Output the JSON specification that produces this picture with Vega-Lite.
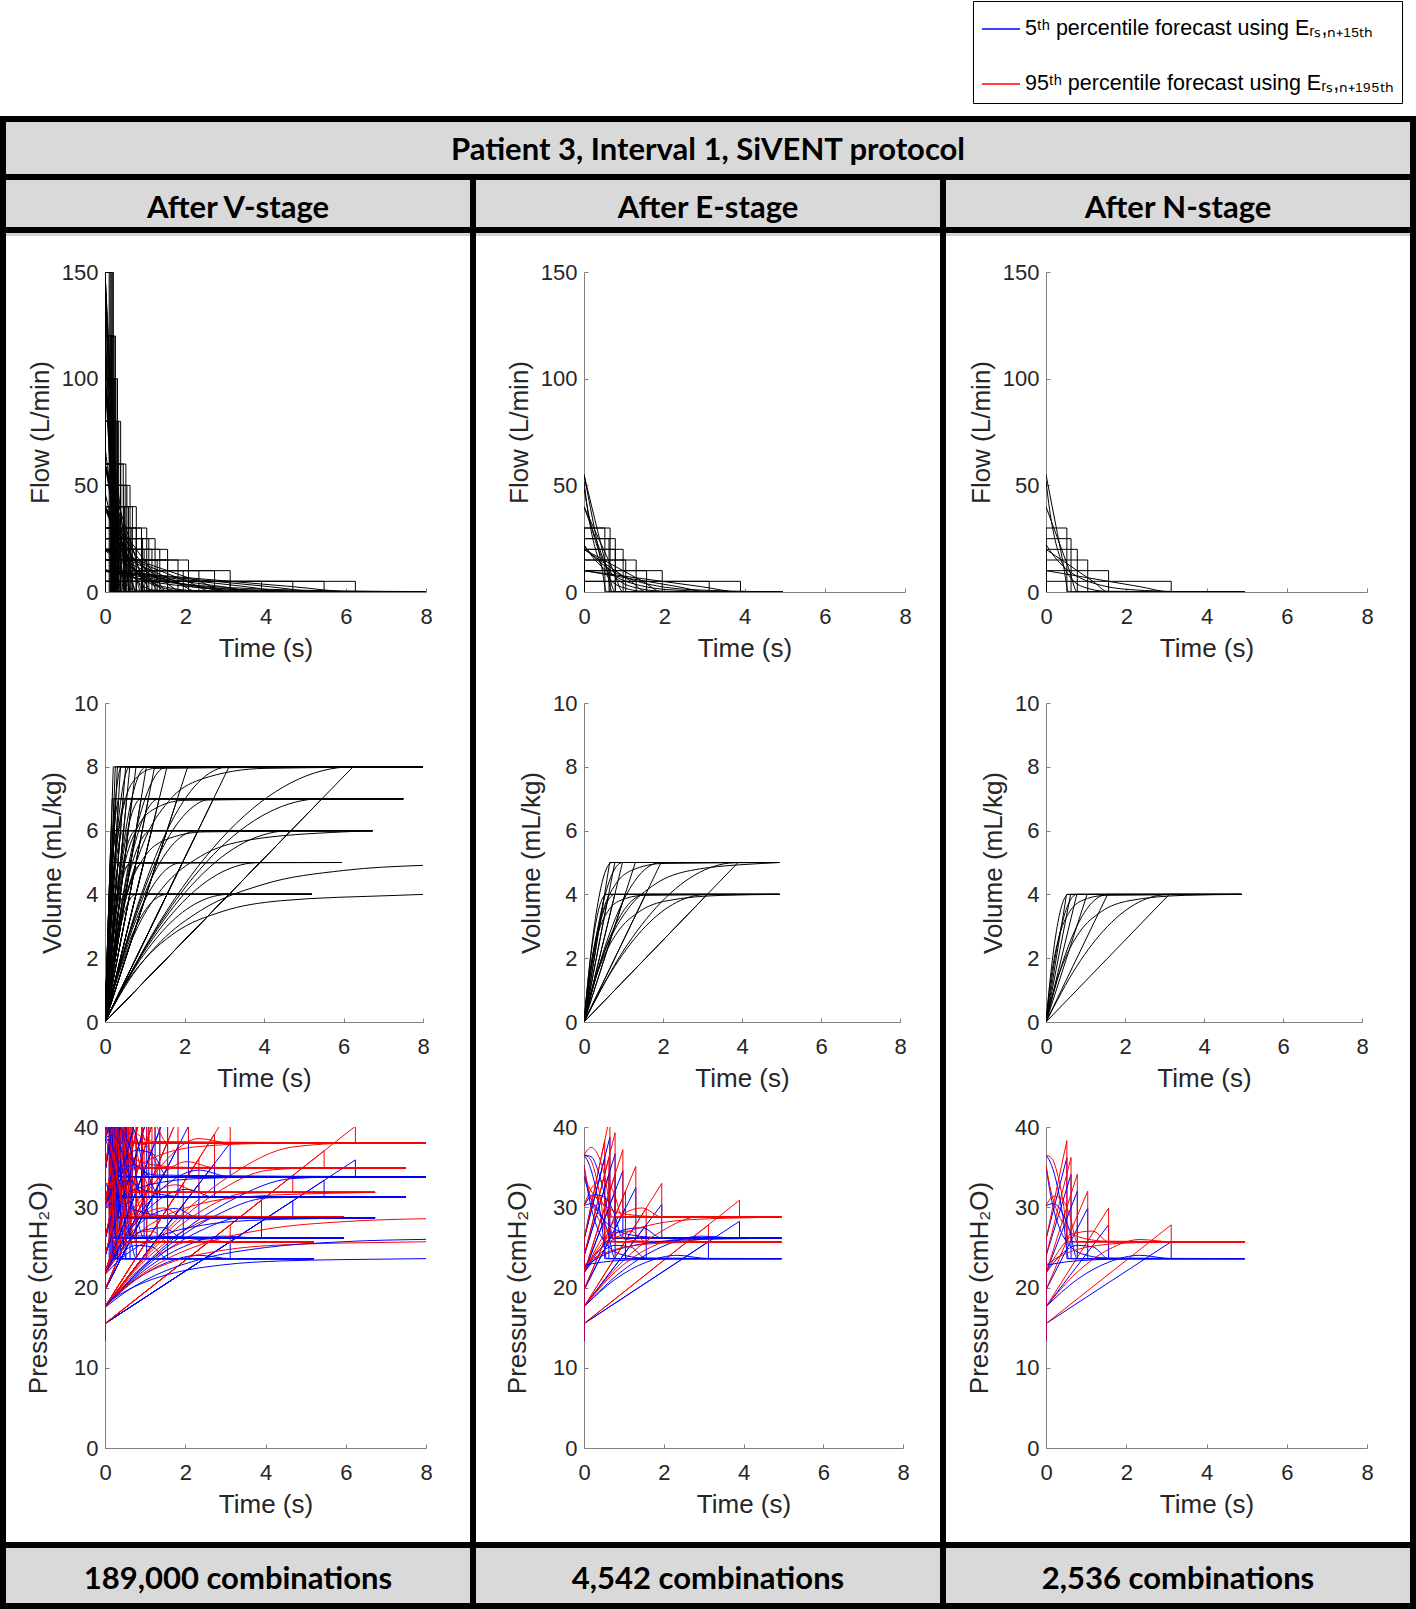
{
"$schema":"https://vega.github.io/schema/vega-lite/v6.json",
"padding":0,"spacing":0,"bounds":"flush","align":"each","columns":13,
"config":{"view":{"stroke":null},
"axis":{"grid":false,"domainColor":"#808080","tickColor":"#808080","tickSize":-4,"labelFont":"Liberation Sans","labelFontSize":22,"labelColor":"#262626","titleFont":"Liberation Sans","titleFontSize":26,"titleFontWeight":"normal","titleColor":"#262626","labelOverlap":false,"labelFlush":false},
"axisX":{"labelPadding":18,"titlePadding":8},
"axisY":{"labelPadding":11,"titlePadding":8}},
"datasets":{
"sq":[
{"c":1,"id":1,"t":[0,0,0.104,0.104,5.2],"f":[0,150,150,0,0],"v":[0,0,4,4,4],"pb":[13.4,76.4,86.6,23.6,23.6],"pr":[13.4,76.4,88.7,25.7,25.7]},
{"c":1,"id":2,"t":[0,0,0.13,0.13,5.95],"f":[0,150,150,0,0],"v":[0,0,5,5,5],"pb":[13.4,76.4,89.15,26.15,26.15],"pr":[13.4,76.4,91.78,28.78,28.78]},
{"c":1,"id":3,"t":[0,0,0.156,0.156,6.73],"f":[0,150,150,0,0],"v":[0,0,6,6,6],"pb":[13.4,76.4,91.7,28.7,28.7],"pr":[13.4,76.4,94.85,31.85,31.85]},
{"c":1,"id":4,"t":[0,0,0.182,0.182,7.5],"f":[0,150,150,0,0],"v":[0,0,7,7,7],"pb":[13.4,76.4,94.25,31.25,31.25],"pr":[13.4,76.4,97.93,34.93,34.93]},
{"c":1,"id":5,"t":[0,0,0.208,0.208,8],"f":[0,150,150,0,0],"v":[0,0,8,8,8],"pb":[13.4,76.4,96.8,33.8,33.8],"pr":[13.4,76.4,101,38,38]},
{"c":1,"id":6,"t":[0,0,0.13,0.13,5.2],"f":[0,120,120,0,0],"v":[0,0,4,4,4],"pb":[13.4,63.8,74,23.6,23.6],"pr":[13.4,63.8,76.1,25.7,25.7]},
{"c":1,"id":7,"t":[0,0,0.163,0.163,5.95],"f":[0,120,120,0,0],"v":[0,0,5,5,5],"pb":[13.4,63.8,76.55,26.15,26.15],"pr":[13.4,63.8,79.18,28.78,28.78]},
{"c":1,"id":8,"t":[0,0,0.195,0.195,6.73],"f":[0,120,120,0,0],"v":[0,0,6,6,6],"pb":[13.4,63.8,79.1,28.7,28.7],"pr":[13.4,63.8,82.25,31.85,31.85]},
{"c":1,"id":9,"t":[0,0,0.228,0.228,7.5],"f":[0,120,120,0,0],"v":[0,0,7,7,7],"pb":[13.4,63.8,81.65,31.25,31.25],"pr":[13.4,63.8,85.33,34.93,34.93]},
{"c":1,"id":10,"t":[0,0,0.26,0.26,8],"f":[0,120,120,0,0],"v":[0,0,8,8,8],"pb":[13.4,63.8,84.2,33.8,33.8],"pr":[13.4,63.8,88.4,38,38]},
{"c":1,"id":11,"t":[0,0,0.156,0.156,5.2],"f":[0,100,100,0,0],"v":[0,0,4,4,4],"pb":[13.4,55.4,65.6,23.6,23.6],"pr":[13.4,55.4,67.7,25.7,25.7]},
{"c":1,"id":12,"t":[0,0,0.195,0.195,5.95],"f":[0,100,100,0,0],"v":[0,0,5,5,5],"pb":[13.4,55.4,68.15,26.15,26.15],"pr":[13.4,55.4,70.78,28.78,28.78]},
{"c":1,"id":13,"t":[0,0,0.234,0.234,6.73],"f":[0,100,100,0,0],"v":[0,0,6,6,6],"pb":[13.4,55.4,70.7,28.7,28.7],"pr":[13.4,55.4,73.85,31.85,31.85]},
{"c":1,"id":14,"t":[0,0,0.273,0.273,7.5],"f":[0,100,100,0,0],"v":[0,0,7,7,7],"pb":[13.4,55.4,73.25,31.25,31.25],"pr":[13.4,55.4,76.93,34.93,34.93]},
{"c":1,"id":15,"t":[0,0,0.312,0.312,8],"f":[0,100,100,0,0],"v":[0,0,8,8,8],"pb":[13.4,55.4,75.8,33.8,33.8],"pr":[13.4,55.4,80,38,38]},
{"c":1,"id":16,"t":[0,0,0.195,0.195,5.2],"f":[0,80,80,0,0],"v":[0,0,4,4,4],"pb":[13.4,47,57.2,23.6,23.6],"pr":[13.4,47,59.3,25.7,25.7]},
{"c":1,"id":17,"t":[0,0,0.244,0.244,5.95],"f":[0,80,80,0,0],"v":[0,0,5,5,5],"pb":[13.4,47,59.75,26.15,26.15],"pr":[13.4,47,62.38,28.78,28.78]},
{"c":1,"id":18,"t":[0,0,0.293,0.293,6.73],"f":[0,80,80,0,0],"v":[0,0,6,6,6],"pb":[13.4,47,62.3,28.7,28.7],"pr":[13.4,47,65.45,31.85,31.85]},
{"c":1,"id":19,"t":[0,0,0.341,0.341,7.5],"f":[0,80,80,0,0],"v":[0,0,7,7,7],"pb":[13.4,47,64.85,31.25,31.25],"pr":[13.4,47,68.53,34.93,34.93]},
{"c":1,"id":20,"t":[0,0,0.39,0.39,8],"f":[0,80,80,0,0],"v":[0,0,8,8,8],"pb":[13.4,47,67.4,33.8,33.8],"pr":[13.4,47,71.6,38,38]},
{"c":1,"id":21,"t":[0,0,0.26,0.26,5.2],"f":[0,60,60,0,0],"v":[0,0,4,4,4],"pb":[13.4,38.6,48.8,23.6,23.6],"pr":[13.4,38.6,50.9,25.7,25.7]},
{"c":1,"id":22,"t":[0,0,0.325,0.325,5.95],"f":[0,60,60,0,0],"v":[0,0,5,5,5],"pb":[13.4,38.6,51.35,26.15,26.15],"pr":[13.4,38.6,53.98,28.78,28.78]},
{"c":1,"id":23,"t":[0,0,0.39,0.39,6.73],"f":[0,60,60,0,0],"v":[0,0,6,6,6],"pb":[13.4,38.6,53.9,28.7,28.7],"pr":[13.4,38.6,57.05,31.85,31.85]},
{"c":1,"id":24,"t":[0,0,0.455,0.455,7.5],"f":[0,60,60,0,0],"v":[0,0,7,7,7],"pb":[13.4,38.6,56.45,31.25,31.25],"pr":[13.4,38.6,60.13,34.93,34.93]},
{"c":1,"id":25,"t":[0,0,0.52,0.52,8],"f":[0,60,60,0,0],"v":[0,0,8,8,8],"pb":[13.4,38.6,59,33.8,33.8],"pr":[13.4,38.6,63.2,38,38]},
{"c":1,"id":26,"t":[0,0,0.312,0.312,5.2],"f":[0,50,50,0,0],"v":[0,0,4,4,4],"pb":[13.4,34.4,44.6,23.6,23.6],"pr":[13.4,34.4,46.7,25.7,25.7]},
{"c":1,"id":27,"t":[0,0,0.39,0.39,5.95],"f":[0,50,50,0,0],"v":[0,0,5,5,5],"pb":[13.4,34.4,47.15,26.15,26.15],"pr":[13.4,34.4,49.78,28.78,28.78]},
{"c":1,"id":28,"t":[0,0,0.468,0.468,6.73],"f":[0,50,50,0,0],"v":[0,0,6,6,6],"pb":[13.4,34.4,49.7,28.7,28.7],"pr":[13.4,34.4,52.85,31.85,31.85]},
{"c":1,"id":29,"t":[0,0,0.546,0.546,7.5],"f":[0,50,50,0,0],"v":[0,0,7,7,7],"pb":[13.4,34.4,52.25,31.25,31.25],"pr":[13.4,34.4,55.93,34.93,34.93]},
{"c":1,"id":30,"t":[0,0,0.624,0.624,8],"f":[0,50,50,0,0],"v":[0,0,8,8,8],"pb":[13.4,34.4,54.8,33.8,33.8],"pr":[13.4,34.4,59,38,38]},
{"c":1,"id":31,"t":[0,0,0.39,0.39,5.2],"f":[0,40,40,0,0],"v":[0,0,4,4,4],"pb":[13.4,30.2,40.4,23.6,23.6],"pr":[13.4,30.2,42.5,25.7,25.7]},
{"c":1,"id":32,"t":[0,0,0.488,0.488,5.95],"f":[0,40,40,0,0],"v":[0,0,5,5,5],"pb":[13.4,30.2,42.95,26.15,26.15],"pr":[13.4,30.2,45.58,28.78,28.78]},
{"c":1,"id":33,"t":[0,0,0.585,0.585,6.73],"f":[0,40,40,0,0],"v":[0,0,6,6,6],"pb":[13.4,30.2,45.5,28.7,28.7],"pr":[13.4,30.2,48.65,31.85,31.85]},
{"c":1,"id":34,"t":[0,0,0.683,0.683,7.5],"f":[0,40,40,0,0],"v":[0,0,7,7,7],"pb":[13.4,30.2,48.05,31.25,31.25],"pr":[13.4,30.2,51.73,34.93,34.93]},
{"c":1,"id":35,"t":[0,0,0.78,0.78,8],"f":[0,40,40,0,0],"v":[0,0,8,8,8],"pb":[13.4,30.2,50.6,33.8,33.8],"pr":[13.4,30.2,54.8,38,38]},
{"c":1,"id":36,"t":[0,0,0.52,0.52,5.2],"f":[0,30,30,0,0],"v":[0,0,4,4,4],"pb":[13.4,26,36.2,23.6,23.6],"pr":[13.4,26,38.3,25.7,25.7]},
{"c":1,"id":37,"t":[0,0,0.65,0.65,5.95],"f":[0,30,30,0,0],"v":[0,0,5,5,5],"pb":[13.4,26,38.75,26.15,26.15],"pr":[13.4,26,41.38,28.78,28.78]},
{"c":1,"id":38,"t":[0,0,0.78,0.78,6.73],"f":[0,30,30,0,0],"v":[0,0,6,6,6],"pb":[13.4,26,41.3,28.7,28.7],"pr":[13.4,26,44.45,31.85,31.85]},
{"c":1,"id":39,"t":[0,0,0.91,0.91,7.5],"f":[0,30,30,0,0],"v":[0,0,7,7,7],"pb":[13.4,26,43.85,31.25,31.25],"pr":[13.4,26,47.53,34.93,34.93]},
{"c":1,"id":40,"t":[0,0,1.04,1.04,8],"f":[0,30,30,0,0],"v":[0,0,8,8,8],"pb":[13.4,26,46.4,33.8,33.8],"pr":[13.4,26,50.6,38,38]},
{"c":1,"id":41,"t":[0,0,0.624,0.624,5.2],"f":[0,25,25,0,0],"v":[0,0,4,4,4],"pb":[13.4,23.9,34.1,23.6,23.6],"pr":[13.4,23.9,36.2,25.7,25.7]},
{"c":1,"id":42,"t":[0,0,0.78,0.78,5.95],"f":[0,25,25,0,0],"v":[0,0,5,5,5],"pb":[13.4,23.9,36.65,26.15,26.15],"pr":[13.4,23.9,39.28,28.78,28.78]},
{"c":1,"id":43,"t":[0,0,0.936,0.936,6.73],"f":[0,25,25,0,0],"v":[0,0,6,6,6],"pb":[13.4,23.9,39.2,28.7,28.7],"pr":[13.4,23.9,42.35,31.85,31.85]},
{"c":1,"id":44,"t":[0,0,1.092,1.092,7.5],"f":[0,25,25,0,0],"v":[0,0,7,7,7],"pb":[13.4,23.9,41.75,31.25,31.25],"pr":[13.4,23.9,45.43,34.93,34.93]},
{"c":1,"id":45,"t":[0,0,1.248,1.248,8],"f":[0,25,25,0,0],"v":[0,0,8,8,8],"pb":[13.4,23.9,44.3,33.8,33.8],"pr":[13.4,23.9,48.5,38,38]},
{"c":1,"id":46,"t":[0,0,0.78,0.78,5.2],"f":[0,20,20,0,0],"v":[0,0,4,4,4],"pb":[13.4,21.8,32,23.6,23.6],"pr":[13.4,21.8,34.1,25.7,25.7]},
{"c":1,"id":47,"t":[0,0,0.975,0.975,5.95],"f":[0,20,20,0,0],"v":[0,0,5,5,5],"pb":[13.4,21.8,34.55,26.15,26.15],"pr":[13.4,21.8,37.18,28.78,28.78]},
{"c":1,"id":48,"t":[0,0,1.17,1.17,6.73],"f":[0,20,20,0,0],"v":[0,0,6,6,6],"pb":[13.4,21.8,37.1,28.7,28.7],"pr":[13.4,21.8,40.25,31.85,31.85]},
{"c":1,"id":49,"t":[0,0,1.365,1.365,7.5],"f":[0,20,20,0,0],"v":[0,0,7,7,7],"pb":[13.4,21.8,39.65,31.25,31.25],"pr":[13.4,21.8,43.33,34.93,34.93]},
{"c":1,"id":50,"t":[0,0,1.56,1.56,8],"f":[0,20,20,0,0],"v":[0,0,8,8,8],"pb":[13.4,21.8,42.2,33.8,33.8],"pr":[13.4,21.8,46.4,38,38]},
{"c":1,"id":51,"t":[0,0,1.04,1.04,5.2],"f":[0,15,15,0,0],"v":[0,0,4,4,4],"pb":[13.4,19.7,29.9,23.6,23.6],"pr":[13.4,19.7,32,25.7,25.7]},
{"c":1,"id":52,"t":[0,0,1.3,1.3,5.95],"f":[0,15,15,0,0],"v":[0,0,5,5,5],"pb":[13.4,19.7,32.45,26.15,26.15],"pr":[13.4,19.7,35.08,28.78,28.78]},
{"c":1,"id":53,"t":[0,0,1.56,1.56,6.73],"f":[0,15,15,0,0],"v":[0,0,6,6,6],"pb":[13.4,19.7,35,28.7,28.7],"pr":[13.4,19.7,38.15,31.85,31.85]},
{"c":1,"id":54,"t":[0,0,1.82,1.82,7.5],"f":[0,15,15,0,0],"v":[0,0,7,7,7],"pb":[13.4,19.7,37.55,31.25,31.25],"pr":[13.4,19.7,41.23,34.93,34.93]},
{"c":1,"id":55,"t":[0,0,2.08,2.08,8],"f":[0,15,15,0,0],"v":[0,0,8,8,8],"pb":[13.4,19.7,40.1,33.8,33.8],"pr":[13.4,19.7,44.3,38,38]},
{"c":1,"id":56,"t":[0,0,1.56,1.56,5.2],"f":[0,10,10,0,0],"v":[0,0,4,4,4],"pb":[13.4,17.6,27.8,23.6,23.6],"pr":[13.4,17.6,29.9,25.7,25.7]},
{"c":1,"id":57,"t":[0,0,1.95,1.95,5.95],"f":[0,10,10,0,0],"v":[0,0,5,5,5],"pb":[13.4,17.6,30.35,26.15,26.15],"pr":[13.4,17.6,32.98,28.78,28.78]},
{"c":1,"id":58,"t":[0,0,2.34,2.34,6.73],"f":[0,10,10,0,0],"v":[0,0,6,6,6],"pb":[13.4,17.6,32.9,28.7,28.7],"pr":[13.4,17.6,36.05,31.85,31.85]},
{"c":1,"id":59,"t":[0,0,2.73,2.73,7.5],"f":[0,10,10,0,0],"v":[0,0,7,7,7],"pb":[13.4,17.6,35.45,31.25,31.25],"pr":[13.4,17.6,39.13,34.93,34.93]},
{"c":1,"id":60,"t":[0,0,3.12,3.12,8],"f":[0,10,10,0,0],"v":[0,0,8,8,8],"pb":[13.4,17.6,38,33.8,33.8],"pr":[13.4,17.6,42.2,38,38]},
{"c":1,"id":61,"t":[0,0,3.12,3.12,5.2],"f":[0,5,5,0,0],"v":[0,0,4,4,4],"pb":[13.4,15.5,25.7,23.6,23.6],"pr":[13.4,15.5,27.8,25.7,25.7]},
{"c":1,"id":62,"t":[0,0,3.9,3.9,5.95],"f":[0,5,5,0,0],"v":[0,0,5,5,5],"pb":[13.4,15.5,28.25,26.15,26.15],"pr":[13.4,15.5,30.88,28.78,28.78]},
{"c":1,"id":63,"t":[0,0,4.68,4.68,6.73],"f":[0,5,5,0,0],"v":[0,0,6,6,6],"pb":[13.4,15.5,30.8,28.7,28.7],"pr":[13.4,15.5,33.95,31.85,31.85]},
{"c":1,"id":64,"t":[0,0,5.46,5.46,7.5],"f":[0,5,5,0,0],"v":[0,0,7,7,7],"pb":[13.4,15.5,33.35,31.25,31.25],"pr":[13.4,15.5,37.03,34.93,34.93]},
{"c":1,"id":65,"t":[0,0,6.24,6.24,8],"f":[0,5,5,0,0],"v":[0,0,8,8,8],"pb":[13.4,15.5,35.9,33.8,33.8],"pr":[13.4,15.5,40.1,38,38]},
{"c":2,"id":66,"t":[0,0,0.52,0.52,4.95],"f":[0,30,30,0,0],"v":[0,0,4,4,4],"pb":[13.4,26,36.2,23.6,23.6],"pr":[13.4,26,38.3,25.7,25.7]},
{"c":2,"id":67,"t":[0,0,0.624,0.624,4.95],"f":[0,25,25,0,0],"v":[0,0,4,4,4],"pb":[13.4,23.9,34.1,23.6,23.6],"pr":[13.4,23.9,36.2,25.7,25.7]},
{"c":2,"id":68,"t":[0,0,0.78,0.78,4.95],"f":[0,20,20,0,0],"v":[0,0,4,4,4],"pb":[13.4,21.8,32,23.6,23.6],"pr":[13.4,21.8,34.1,25.7,25.7]},
{"c":2,"id":69,"t":[0,0,1.04,1.04,4.95],"f":[0,15,15,0,0],"v":[0,0,4,4,4],"pb":[13.4,19.7,29.9,23.6,23.6],"pr":[13.4,19.7,32,25.7,25.7]},
{"c":2,"id":70,"t":[0,0,1.56,1.56,4.95],"f":[0,10,10,0,0],"v":[0,0,4,4,4],"pb":[13.4,17.6,27.8,23.6,23.6],"pr":[13.4,17.6,29.9,25.7,25.7]},
{"c":2,"id":71,"t":[0,0,3.12,3.12,4.95],"f":[0,5,5,0,0],"v":[0,0,4,4,4],"pb":[13.4,15.5,25.7,23.6,23.6],"pr":[13.4,15.5,27.8,25.7,25.7]},
{"c":2,"id":72,"t":[0,0,0.65,0.65,4.95],"f":[0,30,30,0,0],"v":[0,0,5,5,5],"pb":[13.4,26,38.75,26.15,26.15],"pr":[13.4,26,41.38,28.78,28.78]},
{"c":2,"id":73,"t":[0,0,0.78,0.78,4.95],"f":[0,25,25,0,0],"v":[0,0,5,5,5],"pb":[13.4,23.9,36.65,26.15,26.15],"pr":[13.4,23.9,39.28,28.78,28.78]},
{"c":2,"id":74,"t":[0,0,0.975,0.975,4.95],"f":[0,20,20,0,0],"v":[0,0,5,5,5],"pb":[13.4,21.8,34.55,26.15,26.15],"pr":[13.4,21.8,37.18,28.78,28.78]},
{"c":2,"id":75,"t":[0,0,1.3,1.3,4.95],"f":[0,15,15,0,0],"v":[0,0,5,5,5],"pb":[13.4,19.7,32.45,26.15,26.15],"pr":[13.4,19.7,35.08,28.78,28.78]},
{"c":2,"id":76,"t":[0,0,1.95,1.95,4.95],"f":[0,10,10,0,0],"v":[0,0,5,5,5],"pb":[13.4,17.6,30.35,26.15,26.15],"pr":[13.4,17.6,32.98,28.78,28.78]},
{"c":2,"id":77,"t":[0,0,3.9,3.9,4.95],"f":[0,5,5,0,0],"v":[0,0,5,5,5],"pb":[13.4,15.5,28.25,26.15,26.15],"pr":[13.4,15.5,30.88,28.78,28.78]},
{"c":3,"id":78,"t":[0,0,0.52,0.52,4.95],"f":[0,30,30,0,0],"v":[0,0,4,4,4],"pb":[13.4,26,36.2,23.6,23.6],"pr":[13.4,26,38.3,25.7,25.7]},
{"c":3,"id":79,"t":[0,0,0.624,0.624,4.95],"f":[0,25,25,0,0],"v":[0,0,4,4,4],"pb":[13.4,23.9,34.1,23.6,23.6],"pr":[13.4,23.9,36.2,25.7,25.7]},
{"c":3,"id":80,"t":[0,0,0.78,0.78,4.95],"f":[0,20,20,0,0],"v":[0,0,4,4,4],"pb":[13.4,21.8,32,23.6,23.6],"pr":[13.4,21.8,34.1,25.7,25.7]},
{"c":3,"id":81,"t":[0,0,1.04,1.04,4.95],"f":[0,15,15,0,0],"v":[0,0,4,4,4],"pb":[13.4,19.7,29.9,23.6,23.6],"pr":[13.4,19.7,32,25.7,25.7]},
{"c":3,"id":82,"t":[0,0,1.56,1.56,4.95],"f":[0,10,10,0,0],"v":[0,0,4,4,4],"pb":[13.4,17.6,27.8,23.6,23.6],"pr":[13.4,17.6,29.9,25.7,25.7]},
{"c":3,"id":83,"t":[0,0,3.12,3.12,4.95],"f":[0,5,5,0,0],"v":[0,0,4,4,4],"pb":[13.4,15.5,25.7,23.6,23.6],"pr":[13.4,15.5,27.8,25.7,25.7]}
],
"cu":[
{"c":1,"id":101,"t":[0,0.078,0.156,0.234,0.312,5.2],"f":[100,75,50,25,0,0],"v":[0,1.75,3,3.75,4,4],"pb":[55.4,49.36,42.05,33.46,23.6,23.6],"pr":[55.4,50.28,43.63,35.43,25.7,25.7]},
{"c":1,"id":102,"t":[0,0.0975,0.195,0.2925,0.39,5.95],"f":[100,75,50,25,0,0],"v":[0,2.19,3.75,4.69,5,5],"pb":[55.4,50.48,43.96,35.85,26.15,26.15],"pr":[55.4,51.63,45.93,38.31,28.78,28.78]},
{"c":1,"id":103,"t":[0,0.117,0.234,0.351,0.468,6.73],"f":[100,75,50,25,0,0],"v":[0,2.63,4.5,5.63,6,6],"pb":[55.4,51.59,45.88,38.24,28.7,28.7],"pr":[55.4,52.97,48.24,41.2,31.85,31.85]},
{"c":1,"id":104,"t":[0,0.1365,0.273,0.4095,0.546,7.5],"f":[100,75,50,25,0,0],"v":[0,3.06,5.25,6.56,7,7],"pb":[55.4,52.71,47.79,40.63,31.25,31.25],"pr":[55.4,54.32,50.54,44.08,34.93,34.93]},
{"c":1,"id":105,"t":[0,0.156,0.312,0.468,0.624,8],"f":[100,75,50,25,0,0],"v":[0,3.5,6,7.5,8,8],"pb":[55.4,53.83,49.7,43.03,33.8,33.8],"pr":[55.4,55.66,52.85,46.96,38,38]},
{"c":1,"id":106,"t":[0,0.195,0.39,0.585,0.78,5.2],"f":[40,30,20,10,0,0],"v":[0,1.75,3,3.75,4,4],"pb":[30.2,30.46,29.45,27.16,23.6,23.6],"pr":[30.2,31.38,31.03,29.13,25.7,25.7]},
{"c":1,"id":107,"t":[0,0.244,0.4875,0.731,0.975,5.95],"f":[40,30,20,10,0,0],"v":[0,2.19,3.75,4.69,5,5],"pb":[30.2,31.58,31.36,29.55,26.15,26.15],"pr":[30.2,32.73,33.33,32.01,28.78,28.78]},
{"c":1,"id":108,"t":[0,0.2925,0.585,0.8775,1.17,6.73],"f":[40,30,20,10,0,0],"v":[0,2.63,4.5,5.63,6,6],"pb":[30.2,32.69,33.28,31.94,28.7,28.7],"pr":[30.2,34.07,35.64,34.9,31.85,31.85]},
{"c":1,"id":109,"t":[0,0.341,0.6825,1.024,1.365,7.5],"f":[40,30,20,10,0,0],"v":[0,3.06,5.25,6.56,7,7],"pb":[30.2,33.81,35.19,34.33,31.25,31.25],"pr":[30.2,35.42,37.94,37.78,34.93,34.93]},
{"c":1,"id":110,"t":[0,0.39,0.78,1.17,1.56,8],"f":[40,30,20,10,0,0],"v":[0,3.5,6,7.5,8,8],"pb":[30.2,34.93,37.1,36.73,33.8,33.8],"pr":[30.2,36.76,40.25,40.66,38,38]},
{"c":1,"id":111,"t":[0,0.39,0.78,1.17,1.56,5.2],"f":[20,15,10,5,0,0],"v":[0,1.75,3,3.75,4,4],"pb":[21.8,24.16,25.25,25.06,23.6,23.6],"pr":[21.8,25.08,26.83,27.03,25.7,25.7]},
{"c":1,"id":112,"t":[0,0.4875,0.975,1.4625,1.95,5.95],"f":[20,15,10,5,0,0],"v":[0,2.19,3.75,4.69,5,5],"pb":[21.8,25.28,27.16,27.45,26.15,26.15],"pr":[21.8,26.43,29.13,29.91,28.78,28.78]},
{"c":1,"id":113,"t":[0,0.585,1.17,1.755,2.34,6.73],"f":[20,15,10,5,0,0],"v":[0,2.63,4.5,5.63,6,6],"pb":[21.8,26.39,29.08,29.84,28.7,28.7],"pr":[21.8,27.77,31.44,32.8,31.85,31.85]},
{"c":1,"id":114,"t":[0,0.6825,1.365,2.0475,2.73,7.5],"f":[20,15,10,5,0,0],"v":[0,3.06,5.25,6.56,7,7],"pb":[21.8,27.51,30.99,32.23,31.25,31.25],"pr":[21.8,29.12,33.74,35.68,34.93,34.93]},
{"c":1,"id":115,"t":[0,0.78,1.56,2.34,3.12,8],"f":[20,15,10,5,0,0],"v":[0,3.5,6,7.5,8,8],"pb":[21.8,28.63,32.9,34.63,33.8,33.8],"pr":[21.8,30.46,36.05,38.56,38,38]},
{"c":1,"id":116,"t":[0,0.78,1.56,2.34,3.12,5.2],"f":[10,7.5,5,2.5,0,0],"v":[0,1.75,3,3.75,4,4],"pb":[17.6,21.01,23.15,24.01,23.6,23.6],"pr":[17.6,21.93,24.73,25.98,25.7,25.7]},
{"c":1,"id":117,"t":[0,0.975,1.95,2.925,3.9,5.95],"f":[10,7.5,5,2.5,0,0],"v":[0,2.19,3.75,4.69,5,5],"pb":[17.6,22.13,25.06,26.4,26.15,26.15],"pr":[17.6,23.28,27.03,28.86,28.78,28.78]},
{"c":1,"id":118,"t":[0,1.17,2.34,3.51,4.68,6.73],"f":[10,7.5,5,2.5,0,0],"v":[0,2.63,4.5,5.63,6,6],"pb":[17.6,23.24,26.98,28.79,28.7,28.7],"pr":[17.6,24.62,29.34,31.75,31.85,31.85]},
{"c":1,"id":119,"t":[0,1.365,2.73,4.095,5.46,7.5],"f":[10,7.5,5,2.5,0,0],"v":[0,3.06,5.25,6.56,7,7],"pb":[17.6,24.36,28.89,31.18,31.25,31.25],"pr":[17.6,25.97,31.64,34.63,34.93,34.93]},
{"c":1,"id":120,"t":[0,1.56,3.12,4.68,6.24,8],"f":[10,7.5,5,2.5,0,0],"v":[0,3.5,6,7.5,8,8],"pb":[17.6,25.48,30.8,33.58,33.8,33.8],"pr":[17.6,27.31,33.95,37.51,38,38]},
{"c":1,"id":121,"t":[0,0.075,0.175,0.3,0.5,0.75,1.25,8],"f":[124.8,92.45,61.98,37.59,16.89,6.22,0.84,0],"v":[0,2.07,4.03,5.59,6.92,7.6,7.95,8],"pb":[65.82,57.52,49.7,43.45,38.13,35.39,34.01,33.8],"pr":[65.82,58.61,51.81,46.38,41.76,39.39,38.19,38]},
{"c":1,"id":122,"t":[0,0.24,0.56,0.96,1.6,2.4,4,8],"f":[39,28.89,19.37,11.75,5.28,1.94,0.26,0],"v":[0,2.07,4.03,5.59,6.92,7.6,7.95,8],"pb":[29.78,30.82,31.8,32.59,33.26,33.59,33.77,33.8],"pr":[29.78,31.91,33.91,35.52,36.89,37.59,37.95,38]},
{"c":1,"id":123,"t":[0,0.15,0.35,0.6,1,1.5,2.5,6.73],"f":[46.8,34.67,23.24,14.1,6.33,2.33,0.31,0],"v":[0,1.56,3.02,4.19,5.19,5.7,5.96,6],"pb":[33.06,31.93,30.86,30.01,29.29,28.92,28.73,28.7],"pr":[33.06,32.74,32.45,32.21,32.01,31.91,31.86,31.85]},
{"c":1,"id":124,"t":[0,0.36,0.84,1.44,2.4,3.6,6,6.73],"f":[19.5,14.45,9.68,5.87,2.64,0.97,0.13,0],"v":[0,1.56,3.02,4.19,5.19,5.7,5.96,6],"pb":[21.59,23.44,25.17,26.56,27.74,28.35,28.65,28.7],"pr":[21.59,24.25,26.76,28.76,30.46,31.34,31.78,31.85]},
{"c":1,"id":125,"t":[0,0.44,1.03,1.76,2.94,4.41,7.35,8],"f":[10.6,7.85,5.26,3.19,1.43,0.53,0.07,0],"v":[0,1.04,2.01,2.8,3.46,3.8,3.97,4],"pb":[17.85,19.34,20.74,21.87,22.82,23.31,23.56,23.6],"pr":[17.85,19.89,21.8,23.34,24.64,25.31,25.65,25.7]},
{"c":1,"id":126,"t":[0,0.6,1.4,2.4,4,6,8],"f":[9.75,7.22,4.84,2.94,1.32,0.49,0.18],"v":[0,1.3,2.52,3.49,4.32,4.75,4.91],"pb":[17.5,19.73,21.85,23.54,24.98,25.72,26],"pr":[17.5,20.42,23.17,25.37,27.25,28.22,28.57]},
{"c":1,"id":127,"t":[0,0.12,0.28,0.48,0.8,1.2,2,7.5],"f":[68.25,50.56,33.89,20.56,9.23,3.4,0.46,0],"v":[0,1.81,3.52,4.89,6.05,6.65,6.95,7],"pb":[42.07,39.27,36.62,34.51,32.71,31.79,31.32,31.25],"pr":[42.07,40.22,38.47,37.08,35.89,35.28,34.97,34.93]},
{"c":1,"id":128,"t":[0,0.045,0.105,0.18,0.3,0.45,0.75,5.95],"f":[130,96.3,64.56,39.16,17.59,6.47,0.87,0],"v":[0,1.3,2.52,3.49,4.32,4.75,4.97,5],"pb":[68,57.15,46.94,38.76,31.82,28.23,26.43,26.15],"pr":[68,57.84,48.26,40.59,34.09,30.73,29.04,28.78]},
{"c":1,"id":161,"t":[0,0.052,0.104,0.156,0.208,5.2],"f":[150,112.5,75,37.5,0,0],"v":[0,1.75,3,3.75,4,4],"pb":[76.4,65.11,52.55,38.71,23.6,23.6],"pr":[76.4,66.03,54.13,40.68,25.7,25.7]},
{"c":1,"id":162,"t":[0,0.065,0.13,0.195,0.26,5.95],"f":[150,112.5,75,37.5,0,0],"v":[0,2.19,3.75,4.69,5,5],"pb":[76.4,66.23,54.46,41.1,26.15,26.15],"pr":[76.4,67.38,56.43,43.56,28.78,28.78]},
{"c":1,"id":163,"t":[0,0.078,0.156,0.234,0.312,6.73],"f":[150,112.5,75,37.5,0,0],"v":[0,2.63,4.5,5.63,6,6],"pb":[76.4,67.34,56.38,43.49,28.7,28.7],"pr":[76.4,68.72,58.74,46.45,31.85,31.85]},
{"c":1,"id":164,"t":[0,0.091,0.182,0.273,0.364,7.5],"f":[150,112.5,75,37.5,0,0],"v":[0,3.06,5.25,6.56,7,7],"pb":[76.4,68.46,58.29,45.88,31.25,31.25],"pr":[76.4,70.07,61.04,49.33,34.93,34.93]},
{"c":1,"id":165,"t":[0,0.104,0.208,0.312,0.416,8],"f":[150,112.5,75,37.5,0,0],"v":[0,3.5,6,7.5,8,8],"pb":[76.4,69.58,60.2,48.28,33.8,33.8],"pr":[76.4,71.41,63.35,52.21,38,38]},
{"c":1,"id":166,"t":[0,0.13,0.26,0.39,0.52,5.2],"f":[60,45,30,15,0,0],"v":[0,1.75,3,3.75,4,4],"pb":[38.6,36.76,33.65,29.26,23.6,23.6],"pr":[38.6,37.68,35.23,31.23,25.7,25.7]},
{"c":1,"id":167,"t":[0,0.1625,0.325,0.4875,0.65,5.95],"f":[60,45,30,15,0,0],"v":[0,2.19,3.75,4.69,5,5],"pb":[38.6,37.88,35.56,31.65,26.15,26.15],"pr":[38.6,39.03,37.53,34.11,28.78,28.78]},
{"c":1,"id":168,"t":[0,0.195,0.39,0.585,0.78,6.73],"f":[60,45,30,15,0,0],"v":[0,2.63,4.5,5.63,6,6],"pb":[38.6,38.99,37.48,34.04,28.7,28.7],"pr":[38.6,40.37,39.84,37,31.85,31.85]},
{"c":1,"id":169,"t":[0,0.2275,0.455,0.6825,0.91,7.5],"f":[60,45,30,15,0,0],"v":[0,3.06,5.25,6.56,7,7],"pb":[38.6,40.11,39.39,36.43,31.25,31.25],"pr":[38.6,41.72,42.14,39.88,34.93,34.93]},
{"c":1,"id":170,"t":[0,0.26,0.52,0.78,1.04,8],"f":[60,45,30,15,0,0],"v":[0,3.5,6,7.5,8,8],"pb":[38.6,41.23,41.3,38.83,33.8,33.8],"pr":[38.6,43.06,44.45,42.76,38,38]},
{"c":2,"id":131,"t":[0,0.142,0.284,0.425,0.567,4.95],"f":[55,41.25,27.5,13.75,0,0],"v":[0,1.75,3,3.75,4,4],"pb":[36.5,35.19,32.6,28.74,23.6,23.6],"pr":[36.5,36.11,34.18,30.71,25.7,25.7]},
{"c":2,"id":132,"t":[0,0.177,0.355,0.532,0.709,4.95],"f":[55,41.25,27.5,13.75,0,0],"v":[0,2.19,3.75,4.69,5,5],"pb":[36.5,36.31,34.51,31.13,26.15,26.15],"pr":[36.5,37.46,36.48,33.59,28.78,28.78]},
{"c":2,"id":133,"t":[0,0.195,0.39,0.585,0.78,4.95],"f":[40,30,20,10,0,0],"v":[0,1.75,3,3.75,4,4],"pb":[30.2,30.46,29.45,27.16,23.6,23.6],"pr":[30.2,31.38,31.03,29.13,25.7,25.7]},
{"c":2,"id":134,"t":[0,0.244,0.4875,0.731,0.975,4.95],"f":[40,30,20,10,0,0],"v":[0,2.19,3.75,4.69,5,5],"pb":[30.2,31.58,31.36,29.55,26.15,26.15],"pr":[30.2,32.73,33.33,32.01,28.78,28.78]},
{"c":2,"id":135,"t":[0,0.39,0.78,1.17,1.56,4.95],"f":[20,15,10,5,0,0],"v":[0,1.75,3,3.75,4,4],"pb":[21.8,24.16,25.25,25.06,23.6,23.6],"pr":[21.8,25.08,26.83,27.03,25.7,25.7]},
{"c":2,"id":136,"t":[0,0.4875,0.975,1.4625,1.95,4.95],"f":[20,15,10,5,0,0],"v":[0,2.19,3.75,4.69,5,5],"pb":[21.8,25.28,27.16,27.45,26.15,26.15],"pr":[21.8,26.43,29.13,29.91,28.78,28.78]},
{"c":2,"id":137,"t":[0,0.78,1.56,2.34,3.12,4.95],"f":[10,7.5,5,2.5,0,0],"v":[0,1.75,3,3.75,4,4],"pb":[17.6,21.01,23.15,24.01,23.6,23.6],"pr":[17.6,21.93,24.73,25.98,25.7,25.7]},
{"c":2,"id":138,"t":[0,0.975,1.95,2.925,3.9,4.95],"f":[10,7.5,5,2.5,0,0],"v":[0,2.19,3.75,4.69,5,5],"pb":[17.6,22.13,25.06,26.4,26.15,26.15],"pr":[17.6,23.28,27.03,28.86,28.78,28.78]},
{"c":2,"id":139,"t":[0,0.12,0.28,0.48,0.8,1.2,2,4.95],"f":[48.75,36.11,24.21,14.68,6.6,2.43,0.33,0],"v":[0,1.3,2.52,3.49,4.32,4.75,4.97,5],"pb":[33.88,31.87,29.99,28.48,27.2,26.53,26.2,26.15],"pr":[33.88,32.56,31.31,30.31,29.47,29.03,28.81,28.78]},
{"c":2,"id":140,"t":[0,0.09,0.21,0.36,0.6,0.9,1.5,4.95],"f":[52,38.52,25.82,15.66,7.04,2.59,0.35,0],"v":[0,1.04,2.01,2.8,3.46,3.8,3.97,4],"pb":[35.24,32.22,29.37,27.11,25.18,24.18,23.68,23.6],"pr":[35.24,32.77,30.43,28.58,27,26.18,25.77,25.7]},
{"c":2,"id":141,"t":[0,0.27,0.63,1.08,1.8,2.7,4.5,4.95],"f":[21.67,16.05,10.76,6.53,2.93,1.08,0.15,0],"v":[0,1.3,2.52,3.49,4.32,4.75,4.97,5],"pb":[22.5,23.44,24.34,25.05,25.66,25.96,26.12,26.15],"pr":[22.5,24.13,25.66,26.88,27.93,28.46,28.73,28.78]},
{"c":2,"id":142,"t":[0,0.21,0.49,0.84,1.4,2.1,3.5,4.95],"f":[22.29,16.51,11.07,6.71,3.02,1.11,0.15,0],"v":[0,1.04,2.01,2.8,3.46,3.8,3.97,4],"pb":[22.76,22.97,23.18,23.35,23.49,23.56,23.59,23.6],"pr":[22.76,23.52,24.24,24.82,25.31,25.56,25.68,25.7]},
{"c":3,"id":151,"t":[0,0.142,0.284,0.425,0.567,4.95],"f":[55,41.25,27.5,13.75,0,0],"v":[0,1.75,3,3.75,4,4],"pb":[36.5,35.19,32.6,28.74,23.6,23.6],"pr":[36.5,36.11,34.18,30.71,25.7,25.7]},
{"c":3,"id":152,"t":[0,0.195,0.39,0.585,0.78,4.95],"f":[40,30,20,10,0,0],"v":[0,1.75,3,3.75,4,4],"pb":[30.2,30.46,29.45,27.16,23.6,23.6],"pr":[30.2,31.38,31.03,29.13,25.7,25.7]},
{"c":3,"id":153,"t":[0,0.39,0.78,1.17,1.56,4.95],"f":[20,15,10,5,0,0],"v":[0,1.75,3,3.75,4,4],"pb":[21.8,24.16,25.25,25.06,23.6,23.6],"pr":[21.8,25.08,26.83,27.03,25.7,25.7]},
{"c":3,"id":154,"t":[0,0.78,1.56,2.34,3.12,4.95],"f":[10,7.5,5,2.5,0,0],"v":[0,1.75,3,3.75,4,4],"pb":[17.6,21.01,23.15,24.01,23.6,23.6],"pr":[17.6,21.93,24.73,25.98,25.7,25.7]},
{"c":3,"id":155,"t":[0,0.09,0.21,0.36,0.6,0.9,1.5,4.95],"f":[52,38.52,25.82,15.66,7.04,2.59,0.35,0],"v":[0,1.04,2.01,2.8,3.46,3.8,3.97,4],"pb":[35.24,32.22,29.37,27.11,25.18,24.18,23.68,23.6],"pr":[35.24,32.77,30.43,28.58,27,26.18,25.77,25.7]},
{"c":3,"id":156,"t":[0,0.21,0.49,0.84,1.4,2.1,3.5,4.95],"f":[22.29,16.51,11.07,6.71,3.02,1.11,0.15,0],"v":[0,1.04,2.01,2.8,3.46,3.8,3.97,4],"pb":[22.76,22.97,23.18,23.35,23.49,23.56,23.59,23.6],"pr":[22.76,23.52,24.24,24.82,25.31,25.56,25.68,25.7]}
]},
"concat":[
{"width":6,"height":116,"data":{"values":[]},"mark":"point"},{"width":99,"height":116,"data":{"values":[]},"mark":"point"},{"width":321,"height":116,"data":{"values":[]},"mark":"point"},{"width":44,"height":116,"data":{"values":[]},"mark":"point"},{"width":6,"height":116,"data":{"values":[]},"mark":"point"},{"width":108,"height":116,"data":{"values":[]},"mark":"point"},{"width":321,"height":116,"data":{"values":[]},"mark":"point"},{"width":35,"height":116,"data":{"values":[]},"mark":"point"},{"width":6,"height":116,"data":{"values":[]},"mark":"point"},{"width":100,"height":116,"data":{"values":[]},"mark":"point"},{"width":321,"height":116,"data":{"values":[]},"mark":"point"},{"width":43,"height":116,"data":{"values":[]},"mark":"point"},{"width":6,"height":116,"data":{"values":[]},"mark":"point"},

{"width":6,"height":6,"data":{"values":[]},"mark":"point","view":{"fill":"#000"}},{"width":99,"height":6,"data":{"values":[]},"mark":"point","view":{"fill":"#000"}},{"width":321,"height":6,"data":{"values":[]},"mark":"point","view":{"fill":"#000"}},{"width":44,"height":6,"data":{"values":[]},"mark":"point","view":{"fill":"#000"}},{"width":6,"height":6,"data":{"values":[]},"mark":"point","view":{"fill":"#000"}},{"width":108,"height":6,"data":{"values":[]},"mark":"point","view":{"fill":"#000"}},{"width":321,"height":6,"data":{"values":[]},"mark":"point","view":{"fill":"#000"}},{"width":35,"height":6,"data":{"values":[]},"mark":"point","view":{"fill":"#000"}},{"width":6,"height":6,"data":{"values":[]},"mark":"point","view":{"fill":"#000"}},{"width":100,"height":6,"data":{"values":[]},"mark":"point","view":{"fill":"#000"}},{"width":321,"height":6,"data":{"values":[]},"mark":"point","view":{"fill":"#000"}},{"width":43,"height":6,"data":{"values":[]},"mark":"point","view":{"fill":"#000"}},{"width":6,"height":6,"data":{"values":[]},"mark":"point","view":{"fill":"#000"}},

{"width":6,"height":52,"data":{"values":[]},"mark":"point","view":{"fill":"#000"}},{"width":99,"height":52,"data":{"values":[]},"mark":"point","view":{"fill":"#d9d9d9"}},{"width":321,"height":52,"data":{"values":[]},"mark":"point","view":{"fill":"#d9d9d9"}},{"width":44,"height":52,"data":{"values":[]},"mark":"point","view":{"fill":"#d9d9d9"}},{"width":6,"height":52,"data":{"values":[]},"mark":"point","view":{"fill":"#d9d9d9"}},{"width":108,"height":52,"data":{"values":[]},"mark":"point","view":{"fill":"#d9d9d9"}},{"width":321,"height":52,"data":{"values":[]},"mark":"point","view":{"fill":"#d9d9d9"}},{"width":35,"height":52,"data":{"values":[]},"mark":"point","view":{"fill":"#d9d9d9"}},{"width":6,"height":52,"data":{"values":[]},"mark":"point","view":{"fill":"#d9d9d9"}},{"width":100,"height":52,"data":{"values":[]},"mark":"point","view":{"fill":"#d9d9d9"}},{"width":321,"height":52,"data":{"values":[]},"mark":"point","view":{"fill":"#d9d9d9"}},
{"width":43,"height":52,"data":{"values":[{}]},"mark":{"type":"text","text":"Patient 3, Interval 1, SiVENT protocol","font":"Lato","fontWeight":"bold","fontSize":31,"dx":-680.5,"dy":3,"color":"#000"},"view":{"fill":"#d9d9d9"}},
{"width":6,"height":52,"data":{"values":[]},"mark":"point","view":{"fill":"#000"}},

{"width":6,"height":6,"data":{"values":[]},"mark":"point","view":{"fill":"#000"}},{"width":99,"height":6,"data":{"values":[]},"mark":"point","view":{"fill":"#000"}},{"width":321,"height":6,"data":{"values":[]},"mark":"point","view":{"fill":"#000"}},{"width":44,"height":6,"data":{"values":[]},"mark":"point","view":{"fill":"#000"}},{"width":6,"height":6,"data":{"values":[]},"mark":"point","view":{"fill":"#000"}},{"width":108,"height":6,"data":{"values":[]},"mark":"point","view":{"fill":"#000"}},{"width":321,"height":6,"data":{"values":[]},"mark":"point","view":{"fill":"#000"}},{"width":35,"height":6,"data":{"values":[]},"mark":"point","view":{"fill":"#000"}},{"width":6,"height":6,"data":{"values":[]},"mark":"point","view":{"fill":"#000"}},{"width":100,"height":6,"data":{"values":[]},"mark":"point","view":{"fill":"#000"}},{"width":321,"height":6,"data":{"values":[]},"mark":"point","view":{"fill":"#000"}},{"width":43,"height":6,"data":{"values":[]},"mark":"point","view":{"fill":"#000"}},{"width":6,"height":6,"data":{"values":[]},"mark":"point","view":{"fill":"#000"}},

{"width":6,"height":47,"data":{"values":[]},"mark":"point","view":{"fill":"#000"}},{"width":99,"height":47,"data":{"values":[]},"mark":"point","view":{"fill":"#d9d9d9"}},
{"width":321,"height":47,"data":{"values":[{}]},"mark":{"type":"text","text":"After V-stage","font":"Lato","fontWeight":"bold","fontSize":31,"dx":-27.5,"dy":5,"color":"#000"},"view":{"fill":"#d9d9d9"}},
{"width":44,"height":47,"data":{"values":[]},"mark":"point","view":{"fill":"#d9d9d9"}},{"width":6,"height":47,"data":{"values":[]},"mark":"point","view":{"fill":"#000"}},{"width":108,"height":47,"data":{"values":[]},"mark":"point","view":{"fill":"#d9d9d9"}},
{"width":321,"height":47,"data":{"values":[{}]},"mark":{"type":"text","text":"After E-stage","font":"Lato","fontWeight":"bold","fontSize":31,"dx":-36.5,"dy":5,"color":"#000"},"view":{"fill":"#d9d9d9"}},
{"width":35,"height":47,"data":{"values":[]},"mark":"point","view":{"fill":"#d9d9d9"}},{"width":6,"height":47,"data":{"values":[]},"mark":"point","view":{"fill":"#000"}},{"width":100,"height":47,"data":{"values":[]},"mark":"point","view":{"fill":"#d9d9d9"}},
{"width":321,"height":47,"data":{"values":[{}]},"mark":{"type":"text","text":"After N-stage","font":"Lato","fontWeight":"bold","fontSize":31,"dx":-28.5,"dy":5,"color":"#000"},"view":{"fill":"#d9d9d9"}},
{"width":43,"height":47,"data":{"values":[]},"mark":"point","view":{"fill":"#d9d9d9"}},{"width":6,"height":47,"data":{"values":[]},"mark":"point","view":{"fill":"#000"}},

{"width":6,"height":6,"data":{"values":[]},"mark":"point","view":{"fill":"#000"}},{"width":99,"height":6,"data":{"values":[]},"mark":"point","view":{"fill":"#000"}},{"width":321,"height":6,"data":{"values":[]},"mark":"point","view":{"fill":"#000"}},{"width":44,"height":6,"data":{"values":[]},"mark":"point","view":{"fill":"#000"}},{"width":6,"height":6,"data":{"values":[]},"mark":"point","view":{"fill":"#000"}},{"width":108,"height":6,"data":{"values":[]},"mark":"point","view":{"fill":"#000"}},{"width":321,"height":6,"data":{"values":[]},"mark":"point","view":{"fill":"#000"}},{"width":35,"height":6,"data":{"values":[]},"mark":"point","view":{"fill":"#000"}},{"width":6,"height":6,"data":{"values":[]},"mark":"point","view":{"fill":"#000"}},{"width":100,"height":6,"data":{"values":[]},"mark":"point","view":{"fill":"#000"}},{"width":321,"height":6,"data":{"values":[]},"mark":"point","view":{"fill":"#000"}},{"width":43,"height":6,"data":{"values":[]},"mark":"point","view":{"fill":"#000"}},{"width":6,"height":6,"data":{"values":[]},"mark":"point","view":{"fill":"#000"}},

{"width":6,"height":3,"data":{"values":[]},"mark":"point","view":{"fill":"#000"}},{"width":99,"height":3,"data":{"values":[]},"mark":"point","view":{"fill":"#d0d0d0"}},{"width":321,"height":3,"data":{"values":[]},"mark":"point","view":{"fill":"#d0d0d0"}},{"width":44,"height":3,"data":{"values":[]},"mark":"point","view":{"fill":"#d0d0d0"}},{"width":6,"height":3,"data":{"values":[]},"mark":"point","view":{"fill":"#000"}},{"width":108,"height":3,"data":{"values":[]},"mark":"point","view":{"fill":"#d0d0d0"}},{"width":321,"height":3,"data":{"values":[]},"mark":"point","view":{"fill":"#d0d0d0"}},{"width":35,"height":3,"data":{"values":[]},"mark":"point","view":{"fill":"#d0d0d0"}},{"width":6,"height":3,"data":{"values":[]},"mark":"point","view":{"fill":"#000"}},{"width":100,"height":3,"data":{"values":[]},"mark":"point","view":{"fill":"#d0d0d0"}},{"width":321,"height":3,"data":{"values":[]},"mark":"point","view":{"fill":"#d0d0d0"}},{"width":43,"height":3,"data":{"values":[]},"mark":"point","view":{"fill":"#d0d0d0"}},{"width":6,"height":3,"data":{"values":[]},"mark":"point","view":{"fill":"#000"}},

{"width":6,"height":36,"data":{"values":[]},"mark":"point","view":{"fill":"#000"}},{"width":99,"height":36,"data":{"values":[]},"mark":"point"},{"width":321,"height":36,"data":{"values":[]},"mark":"point"},{"width":44,"height":36,"data":{"values":[]},"mark":"point"},{"width":6,"height":36,"data":{"values":[]},"mark":"point","view":{"fill":"#000"}},{"width":108,"height":36,"data":{"values":[]},"mark":"point"},{"width":321,"height":36,"data":{"values":[]},"mark":"point"},{"width":35,"height":36,"data":{"values":[]},"mark":"point"},{"width":6,"height":36,"data":{"values":[]},"mark":"point","view":{"fill":"#000"}},{"width":100,"height":36,"data":{"values":[]},"mark":"point"},{"width":321,"height":36,"data":{"values":[]},"mark":"point"},{"width":43,"height":36,"data":{"values":[]},"mark":"point"},{"width":6,"height":36,"data":{"values":[]},"mark":"point","view":{"fill":"#000"}},

{"width":6,"height":320,"data":{"values":[]},"mark":"point","view":{"fill":"#000"}},{"width":99,"height":320,"data":{"values":[]},"mark":"point"},
{"width":321,"height":320,"encoding":{"x":{"field":"t","type":"quantitative","scale":{"domain":[0,8],"nice":false},"axis":{"values":[0,2,4,6,8],"title":"Time (s)"}},"y":{"field":"f","type":"quantitative","scale":{"domain":[0,150],"nice":false},"axis":{"values":[0,50,100,150],"title":"Flow (L/min)"}},"detail":{"field":"id"},"order":{"value":null}},
"layer":[{"data":{"name":"sq"},"transform":[{"filter":{"field":"c","equal":1}},{"flatten":["t","f"]}],"mark":{"type":"line","color":"#000","strokeWidth":1,"clip":true}},{"data":{"name":"cu"},"transform":[{"filter":{"field":"c","equal":1}},{"flatten":["t","f"]}],"mark":{"type":"line","interpolate":"monotone","color":"#000","strokeWidth":1,"clip":true}}]},
{"width":44,"height":320,"data":{"values":[]},"mark":"point"},{"width":6,"height":320,"data":{"values":[]},"mark":"point","view":{"fill":"#000"}},{"width":108,"height":320,"data":{"values":[]},"mark":"point"},
{"width":321,"height":320,"encoding":{"x":{"field":"t","type":"quantitative","scale":{"domain":[0,8],"nice":false},"axis":{"values":[0,2,4,6,8],"title":"Time (s)"}},"y":{"field":"f","type":"quantitative","scale":{"domain":[0,150],"nice":false},"axis":{"values":[0,50,100,150],"title":"Flow (L/min)"}},"detail":{"field":"id"},"order":{"value":null}},
"layer":[{"data":{"name":"sq"},"transform":[{"filter":{"field":"c","equal":2}},{"flatten":["t","f"]}],"mark":{"type":"line","color":"#000","strokeWidth":1,"clip":true}},{"data":{"name":"cu"},"transform":[{"filter":{"field":"c","equal":2}},{"flatten":["t","f"]}],"mark":{"type":"line","interpolate":"monotone","color":"#000","strokeWidth":1,"clip":true}}]},
{"width":35,"height":320,"data":{"values":[]},"mark":"point"},{"width":6,"height":320,"data":{"values":[]},"mark":"point","view":{"fill":"#000"}},{"width":100,"height":320,"data":{"values":[]},"mark":"point"},
{"width":321,"height":320,"encoding":{"x":{"field":"t","type":"quantitative","scale":{"domain":[0,8],"nice":false},"axis":{"values":[0,2,4,6,8],"title":"Time (s)"}},"y":{"field":"f","type":"quantitative","scale":{"domain":[0,150],"nice":false},"axis":{"values":[0,50,100,150],"title":"Flow (L/min)"}},"detail":{"field":"id"},"order":{"value":null}},
"layer":[{"data":{"name":"sq"},"transform":[{"filter":{"field":"c","equal":3}},{"flatten":["t","f"]}],"mark":{"type":"line","color":"#000","strokeWidth":1,"clip":true}},{"data":{"name":"cu"},"transform":[{"filter":{"field":"c","equal":3}},{"flatten":["t","f"]}],"mark":{"type":"line","interpolate":"monotone","color":"#000","strokeWidth":1,"clip":true}}]},
{"width":43,"height":320,"data":{"values":[]},"mark":"point"},{"width":6,"height":320,"data":{"values":[]},"mark":"point","view":{"fill":"#000"}},

{"width":6,"height":111,"data":{"values":[]},"mark":"point","view":{"fill":"#000"}},{"width":99,"height":111,"data":{"values":[]},"mark":"point"},{"width":321,"height":111,"data":{"values":[]},"mark":"point"},{"width":44,"height":111,"data":{"values":[]},"mark":"point"},{"width":6,"height":111,"data":{"values":[]},"mark":"point","view":{"fill":"#000"}},{"width":108,"height":111,"data":{"values":[]},"mark":"point"},{"width":321,"height":111,"data":{"values":[]},"mark":"point"},{"width":35,"height":111,"data":{"values":[]},"mark":"point"},{"width":6,"height":111,"data":{"values":[]},"mark":"point","view":{"fill":"#000"}},{"width":100,"height":111,"data":{"values":[]},"mark":"point"},{"width":321,"height":111,"data":{"values":[]},"mark":"point"},{"width":43,"height":111,"data":{"values":[]},"mark":"point"},{"width":6,"height":111,"data":{"values":[]},"mark":"point","view":{"fill":"#000"}},

{"width":6,"height":319,"data":{"values":[]},"mark":"point","view":{"fill":"#000"}},{"width":99,"height":319,"data":{"values":[]},"mark":"point"},
{"width":318,"height":319,"encoding":{"x":{"field":"t","type":"quantitative","scale":{"domain":[0,8],"nice":false},"axis":{"values":[0,2,4,6,8],"title":"Time (s)"}},"y":{"field":"v","type":"quantitative","scale":{"domain":[0,10],"nice":false},"axis":{"values":[0,2,4,6,8,10],"title":"Volume (mL/kg)"}},"detail":{"field":"id"},"order":{"value":null}},
"layer":[{"data":{"name":"sq"},"transform":[{"filter":{"field":"c","equal":1}},{"flatten":["t","v"]}],"mark":{"type":"line","color":"#000","strokeWidth":1,"clip":true}},{"data":{"name":"cu"},"transform":[{"filter":{"field":"c","equal":1}},{"flatten":["t","v"]}],"mark":{"type":"line","interpolate":"monotone","color":"#000","strokeWidth":1,"clip":true}}]},
{"width":44,"height":319,"data":{"values":[]},"mark":"point"},{"width":6,"height":319,"data":{"values":[]},"mark":"point","view":{"fill":"#000"}},{"width":108,"height":319,"data":{"values":[]},"mark":"point"},
{"width":316,"height":319,"encoding":{"x":{"field":"t","type":"quantitative","scale":{"domain":[0,8],"nice":false},"axis":{"values":[0,2,4,6,8],"title":"Time (s)"}},"y":{"field":"v","type":"quantitative","scale":{"domain":[0,10],"nice":false},"axis":{"values":[0,2,4,6,8,10],"title":"Volume (mL/kg)"}},"detail":{"field":"id"},"order":{"value":null}},
"layer":[{"data":{"name":"sq"},"transform":[{"filter":{"field":"c","equal":2}},{"flatten":["t","v"]}],"mark":{"type":"line","color":"#000","strokeWidth":1,"clip":true}},{"data":{"name":"cu"},"transform":[{"filter":{"field":"c","equal":2}},{"flatten":["t","v"]}],"mark":{"type":"line","interpolate":"monotone","color":"#000","strokeWidth":1,"clip":true}}]},
{"width":35,"height":319,"data":{"values":[]},"mark":"point"},{"width":6,"height":319,"data":{"values":[]},"mark":"point","view":{"fill":"#000"}},{"width":100,"height":319,"data":{"values":[]},"mark":"point"},
{"width":316,"height":319,"encoding":{"x":{"field":"t","type":"quantitative","scale":{"domain":[0,8],"nice":false},"axis":{"values":[0,2,4,6,8],"title":"Time (s)"}},"y":{"field":"v","type":"quantitative","scale":{"domain":[0,10],"nice":false},"axis":{"values":[0,2,4,6,8,10],"title":"Volume (mL/kg)"}},"detail":{"field":"id"},"order":{"value":null}},
"layer":[{"data":{"name":"sq"},"transform":[{"filter":{"field":"c","equal":3}},{"flatten":["t","v"]}],"mark":{"type":"line","color":"#000","strokeWidth":1,"clip":true}},{"data":{"name":"cu"},"transform":[{"filter":{"field":"c","equal":3}},{"flatten":["t","v"]}],"mark":{"type":"line","interpolate":"monotone","color":"#000","strokeWidth":1,"clip":true}}]},
{"width":43,"height":319,"data":{"values":[]},"mark":"point"},{"width":6,"height":319,"data":{"values":[]},"mark":"point","view":{"fill":"#000"}},

{"width":6,"height":105,"data":{"values":[]},"mark":"point","view":{"fill":"#000"}},{"width":99,"height":105,"data":{"values":[]},"mark":"point"},{"width":321,"height":105,"data":{"values":[]},"mark":"point"},{"width":44,"height":105,"data":{"values":[]},"mark":"point"},{"width":6,"height":105,"data":{"values":[]},"mark":"point","view":{"fill":"#000"}},{"width":108,"height":105,"data":{"values":[]},"mark":"point"},{"width":321,"height":105,"data":{"values":[]},"mark":"point"},{"width":35,"height":105,"data":{"values":[]},"mark":"point"},{"width":6,"height":105,"data":{"values":[]},"mark":"point","view":{"fill":"#000"}},{"width":100,"height":105,"data":{"values":[]},"mark":"point"},{"width":321,"height":105,"data":{"values":[]},"mark":"point"},{"width":43,"height":105,"data":{"values":[]},"mark":"point"},{"width":6,"height":105,"data":{"values":[]},"mark":"point","view":{"fill":"#000"}},

{"width":6,"height":321,"data":{"values":[]},"mark":"point","view":{"fill":"#000"}},{"width":99,"height":321,"data":{"values":[]},"mark":"point"},
{"width":321,"height":321,"encoding":{"x":{"field":"t","type":"quantitative","scale":{"domain":[0,8],"nice":false},"axis":{"values":[0,2,4,6,8],"title":"Time (s)"}},"y":{"field":"value","type":"quantitative","scale":{"domain":[0,40],"nice":false},"axis":{"values":[0,10,20,30,40],"title":"Pressure (cmH₂O)","titlePadding":22}},"color":{"field":"key","type":"nominal","scale":{"domain":["pb","pr"],"range":["#0000ff","#ff0000"]},"legend":{"orient":"none","legendX":973,"legendY":1,"title":null,"symbolType":"stroke","symbolSize":1444,"symbolStrokeWidth":1.5,"labelFont":"Liberation Sans","labelFontSize":21.5,"labelColor":"#000","labelLimit":700,"padding":8,"rowPadding":24,"strokeColor":"#000","labelExpr":"datum.value == 'pb' ? '5ᵗʰ percentile forecast using Eᵣₛ,ₙ₊₁₅ₜₕ' : '95ᵗʰ percentile forecast using Eᵣₛ,ₙ₊₁₉₅ₜₕ'"}},"detail":{"field":"id"},"order":{"value":null}},
"layer":[{"data":{"name":"sq"},"transform":[{"filter":{"field":"c","equal":1}},{"flatten":["t","pb","pr"]},{"fold":["pb","pr"]}],"mark":{"type":"line","strokeWidth":1,"clip":true}},{"data":{"name":"cu"},"transform":[{"filter":{"field":"c","equal":1}},{"flatten":["t","pb","pr"]},{"fold":["pb","pr"]}],"mark":{"type":"line","interpolate":"monotone","strokeWidth":1,"clip":true}}]},
{"width":44,"height":321,"data":{"values":[]},"mark":"point"},{"width":6,"height":321,"data":{"values":[]},"mark":"point","view":{"fill":"#000"}},{"width":108,"height":321,"data":{"values":[]},"mark":"point"},
{"width":319,"height":321,"encoding":{"x":{"field":"t","type":"quantitative","scale":{"domain":[0,8],"nice":false},"axis":{"values":[0,2,4,6,8],"title":"Time (s)"}},"y":{"field":"value","type":"quantitative","scale":{"domain":[0,40],"nice":false},"axis":{"values":[0,10,20,30,40],"title":"Pressure (cmH₂O)","titlePadding":22}},"color":{"field":"key","type":"nominal","scale":{"domain":["pb","pr"],"range":["#0000ff","#ff0000"]},"legend":{"orient":"none","legendX":973,"legendY":1,"title":null,"symbolType":"stroke","symbolSize":1444,"symbolStrokeWidth":1.5,"labelFont":"Liberation Sans","labelFontSize":21.5,"labelColor":"#000","labelLimit":700,"padding":8,"rowPadding":24,"strokeColor":"#000","labelExpr":"datum.value == 'pb' ? '5ᵗʰ percentile forecast using Eᵣₛ,ₙ₊₁₅ₜₕ' : '95ᵗʰ percentile forecast using Eᵣₛ,ₙ₊₁₉₅ₜₕ'"}},"detail":{"field":"id"},"order":{"value":null}},
"layer":[{"data":{"name":"sq"},"transform":[{"filter":{"field":"c","equal":2}},{"flatten":["t","pb","pr"]},{"fold":["pb","pr"]}],"mark":{"type":"line","strokeWidth":1,"clip":true}},{"data":{"name":"cu"},"transform":[{"filter":{"field":"c","equal":2}},{"flatten":["t","pb","pr"]},{"fold":["pb","pr"]}],"mark":{"type":"line","interpolate":"monotone","strokeWidth":1,"clip":true}}]},
{"width":35,"height":321,"data":{"values":[]},"mark":"point"},{"width":6,"height":321,"data":{"values":[]},"mark":"point","view":{"fill":"#000"}},{"width":100,"height":321,"data":{"values":[]},"mark":"point"},
{"width":321,"height":321,"encoding":{"x":{"field":"t","type":"quantitative","scale":{"domain":[0,8],"nice":false},"axis":{"values":[0,2,4,6,8],"title":"Time (s)"}},"y":{"field":"value","type":"quantitative","scale":{"domain":[0,40],"nice":false},"axis":{"values":[0,10,20,30,40],"title":"Pressure (cmH₂O)","titlePadding":22}},"color":{"field":"key","type":"nominal","scale":{"domain":["pb","pr"],"range":["#0000ff","#ff0000"]},"legend":{"orient":"none","legendX":973,"legendY":1,"title":null,"symbolType":"stroke","symbolSize":1444,"symbolStrokeWidth":1.5,"labelFont":"Liberation Sans","labelFontSize":21.5,"labelColor":"#000","labelLimit":700,"padding":8,"rowPadding":24,"strokeColor":"#000","labelExpr":"datum.value == 'pb' ? '5ᵗʰ percentile forecast using Eᵣₛ,ₙ₊₁₅ₜₕ' : '95ᵗʰ percentile forecast using Eᵣₛ,ₙ₊₁₉₅ₜₕ'"}},"detail":{"field":"id"},"order":{"value":null}},
"layer":[{"data":{"name":"sq"},"transform":[{"filter":{"field":"c","equal":3}},{"flatten":["t","pb","pr"]},{"fold":["pb","pr"]}],"mark":{"type":"line","strokeWidth":1,"clip":true}},{"data":{"name":"cu"},"transform":[{"filter":{"field":"c","equal":3}},{"flatten":["t","pb","pr"]},{"fold":["pb","pr"]}],"mark":{"type":"line","interpolate":"monotone","strokeWidth":1,"clip":true}}]},
{"width":43,"height":321,"data":{"values":[]},"mark":"point"},{"width":6,"height":321,"data":{"values":[]},"mark":"point","view":{"fill":"#000"}},

{"width":6,"height":94,"data":{"values":[]},"mark":"point","view":{"fill":"#000"}},{"width":99,"height":94,"data":{"values":[]},"mark":"point"},{"width":321,"height":94,"data":{"values":[]},"mark":"point"},{"width":44,"height":94,"data":{"values":[]},"mark":"point"},{"width":6,"height":94,"data":{"values":[]},"mark":"point","view":{"fill":"#000"}},{"width":108,"height":94,"data":{"values":[]},"mark":"point"},{"width":321,"height":94,"data":{"values":[]},"mark":"point"},{"width":35,"height":94,"data":{"values":[]},"mark":"point"},{"width":6,"height":94,"data":{"values":[]},"mark":"point","view":{"fill":"#000"}},{"width":100,"height":94,"data":{"values":[]},"mark":"point"},{"width":321,"height":94,"data":{"values":[]},"mark":"point"},{"width":43,"height":94,"data":{"values":[]},"mark":"point"},{"width":6,"height":94,"data":{"values":[]},"mark":"point","view":{"fill":"#000"}},

{"width":6,"height":6,"data":{"values":[]},"mark":"point","view":{"fill":"#000"}},{"width":99,"height":6,"data":{"values":[]},"mark":"point","view":{"fill":"#000"}},{"width":321,"height":6,"data":{"values":[]},"mark":"point","view":{"fill":"#000"}},{"width":44,"height":6,"data":{"values":[]},"mark":"point","view":{"fill":"#000"}},{"width":6,"height":6,"data":{"values":[]},"mark":"point","view":{"fill":"#000"}},{"width":108,"height":6,"data":{"values":[]},"mark":"point","view":{"fill":"#000"}},{"width":321,"height":6,"data":{"values":[]},"mark":"point","view":{"fill":"#000"}},{"width":35,"height":6,"data":{"values":[]},"mark":"point","view":{"fill":"#000"}},{"width":6,"height":6,"data":{"values":[]},"mark":"point","view":{"fill":"#000"}},{"width":100,"height":6,"data":{"values":[]},"mark":"point","view":{"fill":"#000"}},{"width":321,"height":6,"data":{"values":[]},"mark":"point","view":{"fill":"#000"}},{"width":43,"height":6,"data":{"values":[]},"mark":"point","view":{"fill":"#000"}},{"width":6,"height":6,"data":{"values":[]},"mark":"point","view":{"fill":"#000"}},

{"width":6,"height":55,"data":{"values":[]},"mark":"point","view":{"fill":"#000"}},{"width":99,"height":55,"data":{"values":[]},"mark":"point","view":{"fill":"#d9d9d9"}},
{"width":321,"height":55,"data":{"values":[{}]},"mark":{"type":"text","text":"189,000 combinations","font":"Lato","fontWeight":"bold","fontSize":31,"dx":-27.5,"dy":4,"color":"#000"},"view":{"fill":"#d9d9d9"}},
{"width":44,"height":55,"data":{"values":[]},"mark":"point","view":{"fill":"#d9d9d9"}},{"width":6,"height":55,"data":{"values":[]},"mark":"point","view":{"fill":"#000"}},{"width":108,"height":55,"data":{"values":[]},"mark":"point","view":{"fill":"#d9d9d9"}},
{"width":321,"height":55,"data":{"values":[{}]},"mark":{"type":"text","text":"4,542 combinations","font":"Lato","fontWeight":"bold","fontSize":31,"dx":-36.5,"dy":4,"color":"#000"},"view":{"fill":"#d9d9d9"}},
{"width":35,"height":55,"data":{"values":[]},"mark":"point","view":{"fill":"#d9d9d9"}},{"width":6,"height":55,"data":{"values":[]},"mark":"point","view":{"fill":"#000"}},{"width":100,"height":55,"data":{"values":[]},"mark":"point","view":{"fill":"#d9d9d9"}},
{"width":321,"height":55,"data":{"values":[{}]},"mark":{"type":"text","text":"2,536 combinations","font":"Lato","fontWeight":"bold","fontSize":31,"dx":-28.5,"dy":4,"color":"#000"},"view":{"fill":"#d9d9d9"}},
{"width":43,"height":55,"data":{"values":[]},"mark":"point","view":{"fill":"#d9d9d9"}},{"width":6,"height":55,"data":{"values":[]},"mark":"point","view":{"fill":"#000"}},

{"width":6,"height":6,"data":{"values":[]},"mark":"point","view":{"fill":"#000"}},{"width":99,"height":6,"data":{"values":[]},"mark":"point","view":{"fill":"#000"}},{"width":321,"height":6,"data":{"values":[]},"mark":"point","view":{"fill":"#000"}},{"width":44,"height":6,"data":{"values":[]},"mark":"point","view":{"fill":"#000"}},{"width":6,"height":6,"data":{"values":[]},"mark":"point","view":{"fill":"#000"}},{"width":108,"height":6,"data":{"values":[]},"mark":"point","view":{"fill":"#000"}},{"width":321,"height":6,"data":{"values":[]},"mark":"point","view":{"fill":"#000"}},{"width":35,"height":6,"data":{"values":[]},"mark":"point","view":{"fill":"#000"}},{"width":6,"height":6,"data":{"values":[]},"mark":"point","view":{"fill":"#000"}},{"width":100,"height":6,"data":{"values":[]},"mark":"point","view":{"fill":"#000"}},{"width":321,"height":6,"data":{"values":[]},"mark":"point","view":{"fill":"#000"}},{"width":43,"height":6,"data":{"values":[]},"mark":"point","view":{"fill":"#000"}},{"width":6,"height":6,"data":{"values":[]},"mark":"point","view":{"fill":"#000"}}
]
}
